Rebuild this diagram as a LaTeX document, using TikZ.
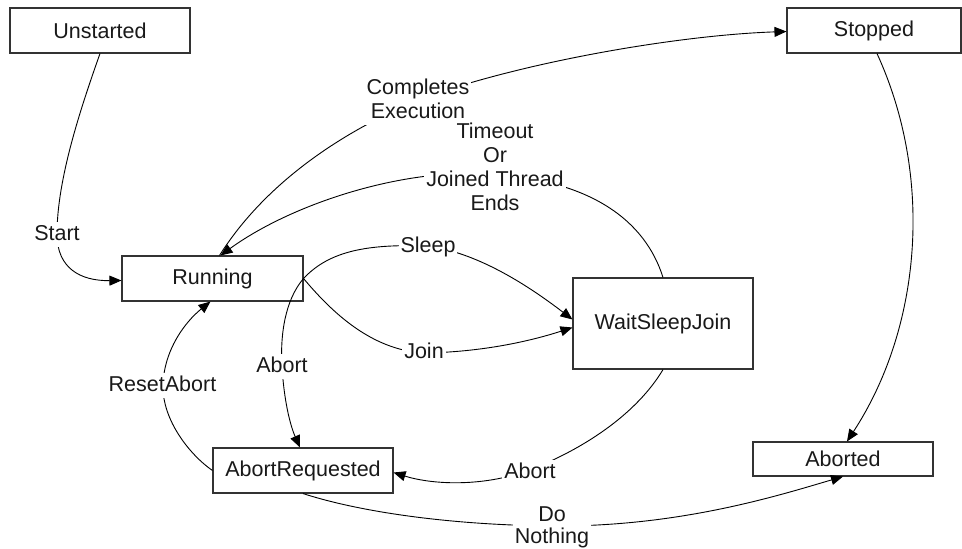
\documentclass[tikz,border=0pt]{standalone}
\usepackage{fontspec}
\setmainfont{Liberation Sans}
\usetikzlibrary{arrows.meta}
\begin{document}
\begin{tikzpicture}[x=1pt,y=-1pt,
  txt/.style={font=\fontsize{21.5}{24}\selectfont, text=black!90},
  state/.style={txt, draw=black!80, line width=1.1pt, fill=white, inner sep=0pt},
  edge/.style={line width=0.9pt, -{Triangle[length=12pt,width=10pt]}},
  lbl/.style={txt, fill=white, inner sep=2pt, align=center, text height=16pt, text depth=4.5pt}]
\useasboundingbox (0,0) rectangle (962,549);

% states
\node[state, minimum width=180pt, minimum height=45pt] (unst) at (100,30.5) {Unstarted};
\node[state, minimum width=174pt, minimum height=45pt] (stop) at (874,30.5) {Stopped};
\node[state, minimum width=181pt, minimum height=45pt] (run)  at (212.5,278.5) {Running};
\node[state, minimum width=180pt, minimum height=91pt] (wsj)  at (663,323.5) {WaitSleepJoin};
\node[state, minimum width=180pt, minimum height=45pt] (ar)   at (303,470.5) {AbortRequested};
\node[state, minimum width=180pt, minimum height=34pt] (abd)  at (843,459) {Aborted};

% transitions, each passing through the spot where its label sits
\draw[edge] (unst.south) .. controls (80,110) and (57,180) .. (57,234)
  .. controls (57,268) and (80,281) .. ([yshift=-2pt]run.west);
\draw[edge] ([xshift=7pt]run.north) .. controls (245,215) and (300,150) .. (418,100)
  .. controls (520,62) and (680,35) .. ([yshift=-1pt]stop.west);
\draw[edge] (wsj.north) .. controls (645,220) and (590,180) .. (490,174)
  .. controls (400,168) and (290,205) .. ([xshift=8pt]run.north);
\draw[edge] (run.east) .. controls (330,250) and (370,244) .. (427,246)
  .. controls (475,252) and (525,283) .. ([yshift=4pt]wsj.west);
\draw[edge] (run.east) .. controls (330,310) and (370,350) .. (424,353)
  .. controls (490,352) and (540,338) .. ([yshift=-4pt]wsj.west);
\draw[edge] (run.east) .. controls (285,300) and (280,335) .. (282,367)
  .. controls (284,400) and (290,425) .. ([xshift=-3pt]ar.north);
\draw[edge] (ar.west) .. controls (190,455) and (162,420) .. (163,385)
  .. controls (164,350) and (185,322) .. ([xshift=-2pt]run.south);
\draw[edge] (wsj.south) .. controls (645,400) and (605,440) .. (530,470)
  .. controls (480,488) and (430,484) .. ([yshift=-2pt]ar.east);
\draw[edge] (ar.south) .. controls (360,512) and (450,525) .. (552,526)
  .. controls (680,527) and (780,495) .. (abd.south);
\draw[edge] ([xshift=3pt]stop.south) .. controls (935,180) and (920,330) .. ([xshift=4pt]abd.north);

% transition labels
\node[lbl] (lstart) at (57,234.5) {Start};
\node[lbl, text height=40pt] (lcomp) at (418,100.25) {Completes\\Execution};
\node[lbl, text height=88pt] (ltime) at (495,168.25) {Timeout\\Or\\Joined Thread\\Ends};
\node[lbl] (lsleep) at (428,246.5) {Sleep};
\node[lbl] (ljoin)  at (424,352.5) {Join};
\node[lbl] (labrt)  at (282,366.5) {Abort};
\node[lbl] (lreset) at (162.5,385.5) {ResetAbort};
\node[lbl] (labrtw) at (530,472.5) {Abort};
\node[lbl, font=\fontsize{21.5}{22}\selectfont, text height=38pt] (lnoth) at (552,526.25) {Do\\Nothing};
\end{tikzpicture}
\end{document}
